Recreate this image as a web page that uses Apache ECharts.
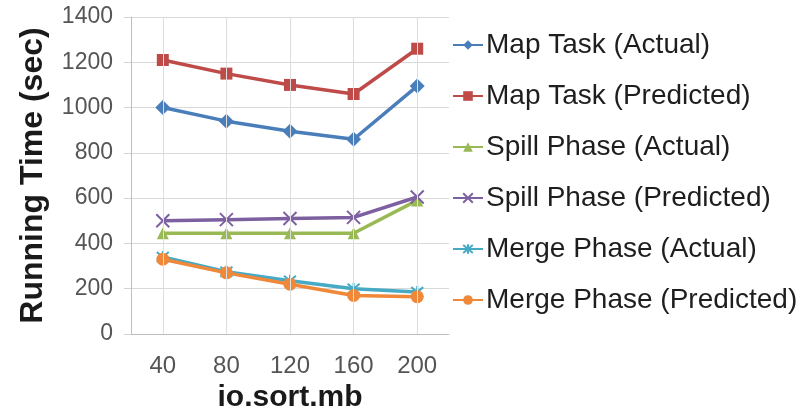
<!DOCTYPE html>
<html>
<head>
<meta charset="utf-8">
<script src="https://cdn.jsdelivr.net/npm/echarts@6/dist/echarts.min.js"></script>
<style>
  html, body { margin: 0; padding: 0; background: #ffffff; }
  #chart { width: 809px; height: 411px; }
</style>
</head>
<body>
<div id="chart"></div>
<script>
// io.sort.mb settings on the x axis
const categories = ['40', '80', '120', '160', '200'];

// Running times in seconds
const mapActual = [1000, 940, 895, 860, 1095];
const mapPredicted = [1210, 1150, 1100, 1060, 1260];
const spillActual = [445, 445, 445, 445, 590];
const spillPredicted = [500, 505, 510, 515, 605];
const mergeActual = [340, 275, 235, 200, 185];
const mergePredicted = [330, 270, 220, 170, 165];

const yTicks = { min: 0, max: 1400, interval: 200 };

const FONT = '"Liberation Sans", Arial, sans-serif';

const crossPath = 'path://M0,0 L10,10 M10,0 L0,10';
const asteriskPath = 'path://M0,0 L10,10 M10,0 L0,10 M5,-1 L5,11';

function lineSeries(name, data, color, symbol, size, extra) {
  return Object.assign({
    name: name,
    type: 'line',
    data: data,
    symbol: symbol,
    symbolSize: size,
    showSymbol: true,
    lineStyle: { color: color, width: 3.5 },
    itemStyle: { color: color },
    emphasis: { disabled: true },
    animation: false,
    z: 3
  }, extra || {});
}

// Vertical gridlines running through each category position
const categoryGrid = {
  type: 'line',
  data: [],
  silent: true,
  animation: false,
  z: 1,
  markLine: {
    silent: true,
    symbol: ['none', 'none'],
    label: { show: false },
    animation: false,
    lineStyle: { color: '#dedede', width: 1, type: 'solid' },
    emphasis: { disabled: true },
    data: categories.map(function (c) { return { xAxis: c }; })
  }
};

const chart = echarts.init(document.getElementById('chart'), null, { renderer: 'canvas' });

chart.setOption({
  backgroundColor: '#ffffff',
  textStyle: { fontFamily: FONT },
  grid: { left: 131, right: 360, top: 17, bottom: 77, containLabel: false, outerBoundsMode: 'none' },
  legend: {
    orient: 'vertical',
    left: 447,
    top: 25,
    itemWidth: 30,
    itemHeight: 12,
    itemGap: 21,
    textStyle: { fontSize: 28, color: '#1e1e1e', fontFamily: FONT, lineHeight: 30, padding: [0, 0, 0, -2] },
    data: [
      'Map Task (Actual)', 'Map Task (Predicted)', 'Spill Phase (Actual)',
      'Spill Phase (Predicted)', 'Merge Phase (Actual)', 'Merge Phase (Predicted)'
    ]
  },
  xAxis: {
    type: 'category',
    data: categories,
    boundaryGap: true,
    name: 'io.sort.mb',
    nameLocation: 'middle',
    nameGap: 47,
    nameTextStyle: { fontSize: 30, fontWeight: 'bold', color: '#1a1a1a', fontFamily: FONT },
    axisLine: { show: true, lineStyle: { color: '#bfbfbf', width: 1 } },
    axisTick: { show: false },
    axisLabel: { fontSize: 24, color: '#555555', margin: 20, fontFamily: FONT },
    splitLine: { show: false }
  },
  yAxis: {
    type: 'value',
    min: yTicks.min,
    max: yTicks.max,
    interval: yTicks.interval,
    name: 'Running Time (sec)',
    nameLocation: 'middle',
    nameGap: 82,
    nameTextStyle: { fontSize: 32, fontWeight: 'bold', color: '#1a1a1a', fontFamily: FONT },
    axisLine: { show: true, lineStyle: { color: '#bfbfbf', width: 1 } },
    axisTick: { show: true, length: 7, inside: false, lineStyle: { color: '#d4d4d4' } },
    axisLabel: { fontSize: 23, color: '#555555', margin: 18, fontFamily: FONT, formatter: function (v) { return String(v); } },
    splitLine: { show: true, lineStyle: { color: '#d9d9d9', width: 1 } }
  },
  series: [
    categoryGrid,
    lineSeries('Map Task (Actual)', mapActual, '#4a7ebb', 'diamond', 15),
    lineSeries('Map Task (Predicted)', mapPredicted, '#be4b48', 'rect', 12),
    lineSeries('Spill Phase (Actual)', spillActual, '#98b954', 'triangle', 12),
    lineSeries('Spill Phase (Predicted)', spillPredicted, '#7d60a0', crossPath, 13, {
      itemStyle: { color: '#7d60a0', borderColor: '#7d60a0', borderWidth: 2 }
    }),
    lineSeries('Merge Phase (Actual)', mergeActual, '#46aac5', asteriskPath, 12, {
      itemStyle: { color: '#46aac5', borderColor: '#46aac5', borderWidth: 2 }
    }),
    lineSeries('Merge Phase (Predicted)', mergePredicted, '#f0883a', 'circle', 13)
  ]
});
</script>
</body>
</html>
